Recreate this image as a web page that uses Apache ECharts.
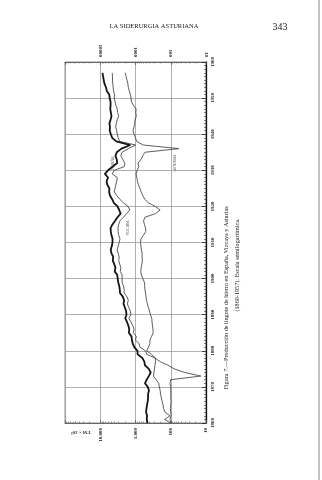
<!DOCTYPE html>
<html><head><meta charset="utf-8">
<script src="https://cdn.jsdelivr.net/npm/echarts@6/dist/echarts.min.js"></script>
<style>html,body{margin:0;padding:0;background:#fff}#c{width:322px;height:480px}</style>
</head><body><div id="c"></div>
<script>
const startYear = 1860;
const yearTicks = [1860,1870,1880,1890,1900,1910,1920,1930,1940,1950,1960];
const valueTicksTop = ['10000','1000','100','10'];
const valueTicksBottom = ['10.000','1.000','100','10'];
// TM x 10^3 (units as printed), yearly 1860-1957
const espana = [460,480,470,500,490,470,450,440,440,415,
 450,540,480,420,370,420,540,560,640,870,
 880,1080,1200,1260,1300,1550,1500,1600,1750,1950,
 1800,1850,2000,2190,2100,2300,2750,2800,2900,3100,
 3200,3300,3900,3700,4000,4400,4300,4800,5040,4700,
 4500,4470,4800,5000,5100,4500,3800,3240,2640,2900,
 3250,4100,4600,5300,5600,5500,6300,6600,6000,7400,
 6000,4500,3300,3400,3700,3400,2500,1400,3500,4600,
 5000,5400,5300,5500,5100,4800,5000,5200,5100,5100,
 5400,5560,6500,6900,7600,8000,8300,8650];
const vizcaya = [100,105,98,100,102,100,98,100,100,100,
 100,105,100,14,40,80,120,200,280,480,
 520,740,800,1000,950,1150,1100,1200,1350,1550,
 1350,1400,1550,1700,1600,1750,2100,2100,2200,2400,
 2400,2400,2700,2600,2800,3000,2900,3100,3300,3100,
 2900,2750,3000,3100,3140,3000,2760,2200,1800,1440,
 1620,2200,2800,3400,4000,3800,3600,3400,3300,4600,
 4000,2100,2000,2300,2600,2400,1600,1000,2800,3100,
 3300,3400,3650,3500,3300,3000,3210,3300,3600,3800,
 4040,3900,4200,4300,4400,4500,4500,4570];
const asturias = [100,150,105,145,160,165,175,185,195,200,
 210,220,260,310,300,290,280,270,275,350,
 480,430,390,390,350,315,320,330,340,345,
 380,400,430,460,490,500,520,540,550,560,
 620,680,710,690,660,640,650,650,680,700,
 720,700,600,510,520,560,590,540,270,200,
 275,430,550,620,690,750,830,880,920,960,
 900,800,850,700,620,540,59,600,930,1000,
 1100,1180,1100,1050,1030,950,980,960,1150,1300,
 1340,1400,1500,1600,1650,1750,1850,1950];
const seriesNames = ['ESPAÑA','VIZCAYA','ASTURIAS'];

const toPairs = arr => arr.map((v,i)=>[v, startYear+i]);
const font = '"Liberation Serif","DejaVu Serif",serif';
const topMap = {10000:valueTicksTop[0],1000:valueTicksTop[1],100:valueTicksTop[2],10:valueTicksTop[3]};
const botMap = {10000:valueTicksBottom[0],1000:valueTicksBottom[1],100:valueTicksBottom[2],10:valueTicksBottom[3]};

const chart = echarts.init(document.getElementById('c'), null, {renderer:'canvas'});
const gridCol = '#9c9c9c';
const logAxisBase = {
  type:'log', logBase:10, min:10, max:100000, inverse:true,
  axisLine:{show:true, lineStyle:{color:'#555', width:0.8}},
  axisTick:{show:true, inside:true, length:3, lineStyle:{color:'#555', width:0.7}},
  minorTick:{show:true, splitNumber:9, length:1.5, lineStyle:{color:'#666', width:0.6}},
};
chart.setOption({
  animation:false,
  backgroundColor:'#fff',
  grid:{left:65, right:116, top:62, bottom:57, show:true, borderColor:'#777', borderWidth:0.8},
  xAxis:[
    Object.assign({}, logAxisBase, {position:'top',
      splitLine:{show:true, lineStyle:{color:gridCol, width:0.8}},
      axisLabel:{rotate:90, fontSize:5, fontFamily:font, color:'#222', fontWeight:'bold', margin:5,
        formatter:v=> topMap[Math.round(v)] || ''}}),
    Object.assign({}, logAxisBase, {position:'bottom',
      splitLine:{show:false},
      axisLabel:{rotate:90, fontSize:5, fontFamily:font, color:'#222', fontWeight:'bold', margin:5,
        formatter:v=> botMap[Math.round(v)] || ''}})
  ],
  yAxis:{type:'value', min:yearTicks[0], max:yearTicks[yearTicks.length-1], interval:10, position:'right',
    axisLine:{show:true, lineStyle:{color:'#111', width:1.3}},
    axisTick:{show:true, inside:true, length:4, lineStyle:{color:'#222', width:0.8}},
    minorTick:{show:true, splitNumber:10, length:2, lineStyle:{color:'#333', width:0.6}},
    splitLine:{show:true, lineStyle:{color:gridCol, width:0.8}},
    axisLabel:{rotate:90, fontSize:5, fontFamily:font, color:'#222', fontWeight:'bold', margin:4,
      formatter:v=> yearTicks.indexOf(v)>=0 ? String(v) : ''}},
  series:[
    {name:seriesNames[0], type:'line', xAxisIndex:1, data:toPairs(espana), showSymbol:false,
      lineStyle:{color:'#151515', width:1.8}},
    {name:seriesNames[1], type:'line', xAxisIndex:1, data:toPairs(vizcaya), showSymbol:false,
      lineStyle:{color:'#333', width:0.8}},
    {name:seriesNames[2], type:'line', xAxisIndex:1, data:toPairs(asturias), showSymbol:false,
      lineStyle:{color:'#333', width:0.8}}
  ],
  graphic:[
    {type:'text', x:154, y:26, style:{text:'LA SIDERURGIA ASTURIANA', font:'6.5px '+font, fill:'#222', align:'center', verticalAlign:'middle'}},
    {type:'text', x:280, y:27, style:{text:'343', font:'10px '+font, fill:'#222', align:'center', verticalAlign:'middle'}},
    {type:'text', x:226, y:298, rotation:Math.PI/2, style:{text:'Figura 7.—Producción de lingote de hierro en España, Vizcaya y Asturias', font:'6.2px '+font, fill:'#222', align:'center', verticalAlign:'middle'}},
    {type:'text', x:237, y:265, rotation:Math.PI/2, style:{text:'(1860-1957). Escala semilogarítmica.', font:'6.2px '+font, fill:'#222', align:'center', verticalAlign:'middle'}},
    {type:'text', x:81, y:432, rotation:Math.PI, style:{text:'TM × 10³', font:'bold 5px '+font, fill:'#333', align:'center', verticalAlign:'middle'}},
    {type:'text', x:113, y:163, rotation:Math.PI/2, style:{text:seriesNames[0], font:'3.5px '+font, fill:'#444', align:'center', verticalAlign:'middle'}},
    {type:'text', x:128, y:228, rotation:Math.PI/2, style:{text:seriesNames[1], font:'3.5px '+font, fill:'#444', align:'center', verticalAlign:'middle'}},
    {type:'text', x:175, y:163, rotation:Math.PI/2, style:{text:seriesNames[2], font:'3.5px '+font, fill:'#444', align:'center', verticalAlign:'middle'}},
    {type:'line', shape:{x1:319, y1:0, x2:319, y2:480}, style:{stroke:'#888', lineWidth:1}}
  ]
});
</script></body></html>
